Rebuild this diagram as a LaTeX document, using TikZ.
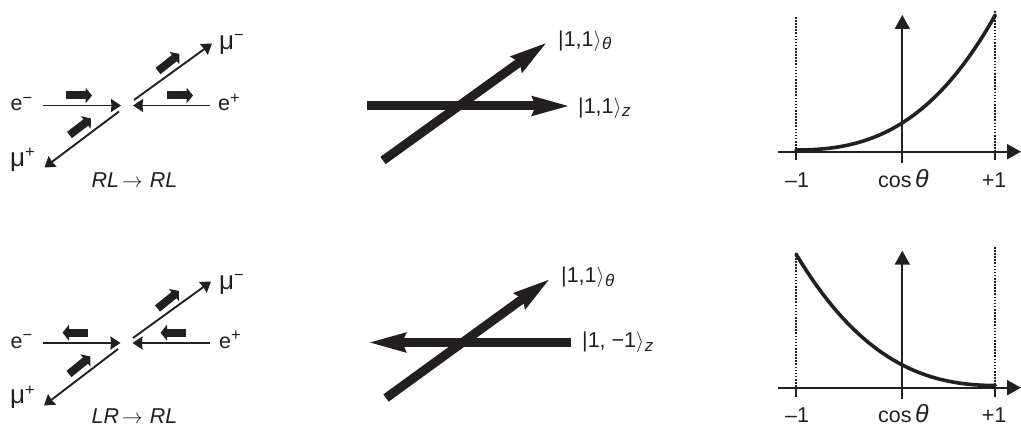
\documentclass[tikz,border=0pt]{standalone}
\usepackage{fontspec}
\setmainfont{Liberation Sans}
\usetikzlibrary{arrows.meta}
\newcommand{\kt}[2]{|#1$\rangle$\kern0.5pt\raisebox{-3.5pt}{\fontsize{17}{17}\selectfont\itshape #2}}
\newcommand{\supr}[1]{\raisebox{7.5pt}{\fontsize{16.5}{16.5}\selectfont #1}}
\newcommand{\suprm}[1]{\raisebox{8.7pt}{\fontsize{16.5}{16.5}\selectfont #1}}
\newcommand{\muchar}{{\fontsize{26}{26}\selectfont μ}}
\newcommand{\thetachar}{{\fontsize{25}{25}\selectfont\itshape θ}}
\tikzset{
  x=1pt,y=-1pt,
  lab/.style={anchor=base,inner sep=0pt,text=ink,font=\fontsize{21.5}{25}\selectfont},
  labl/.style={lab,anchor=base west},
  thinarrow/.style={ink,line width=1.9pt,-{Stealth[length=10pt,width=13pt,inset=0.5pt]}},
  spin/.style={ink,line width=8pt,-{Triangle[length=6.5pt,width=15.5pt]}},
  bigarrow/.style={ink,line width=9pt,-{Stealth[length=38pt,width=17pt,inset=2pt]}},
  axisline/.style={ink,line width=1.9pt},
  axisarrow/.style={axisline,-{Triangle[length=14pt,width=15pt]}},
  dots/.style={ink,line width=1.8pt,dash pattern=on 1.6pt off 1.5pt},
  curve/.style={ink,line width=3.6pt,line cap=round},
}
\definecolor{ink}{HTML}{231F20}
\begin{document}
\begin{tikzpicture}
\useasboundingbox (0,0) rectangle (1021,427);
% --- top left panel
\coordinate (a1) at (43,105.5); \coordinate (a2) at (121,105.5);
\coordinate (b1) at (210,105.5); \coordinate (b2) at (133,105.5);
\coordinate (c1) at (134,100); \coordinate (c2) at (212,43.5);
\coordinate (d1) at (119,111.5); \coordinate (d2) at (44.5,167.5);
\draw[thinarrow] (a1) -- (a2);
\draw[thinarrow] (b1) -- (b2);
\draw[thinarrow] (c1) -- (c2);
\draw[thinarrow] (d1) -- (d2);
\coordinate (s1a) at (66,95.5); \coordinate (s1b) at (92,95.5);
\coordinate (s2a) at (167,95.5); \coordinate (s2b) at (193,95.5);
\coordinate (s3a) at (158,71); \coordinate (s3b) at (179.5,54);
\coordinate (s4a) at (69.5,135); \coordinate (s4b) at (91,118.5);
\draw[spin] (s1a) -- (s1b);
\draw[spin] (s2a) -- (s2b);
\draw[spin] (s3a) -- (s3b);
\draw[spin] (s4a) -- (s4b);
\node[labl] (em1) at (10.5,111) {e\supr{−}};
\node[labl] (ep1) at (218,111) {e\supr{+}};
\node[labl] (mm1) at (219,49.5) {\muchar\suprm{−}};
\node[labl] (mp1) at (10,166.5) {\muchar\suprm{+}};
\node[lab] (t1) at (134.5,187.5) {\textit{RL}\kern3pt$\rightarrow$\kern7pt\textit{RL}};
% --- bottom left panel
\coordinate (e1) at (42.5,343); \coordinate (e2) at (120.5,343);
\coordinate (f1) at (209.5,343); \coordinate (f2) at (132.5,343);
\coordinate (g1) at (133,338); \coordinate (g2) at (211,281.5);
\coordinate (h1) at (118,349); \coordinate (h2) at (44,405.5);
\draw[thinarrow] (e1) -- (e2);
\draw[thinarrow] (f1) -- (f2);
\draw[thinarrow] (g1) -- (g2);
\draw[thinarrow] (h1) -- (h2);
\coordinate (s5a) at (88,332.7); \coordinate (s5b) at (62.5,332.7);
\coordinate (s6a) at (186,332.7); \coordinate (s6b) at (160.5,332.7);
\coordinate (s7a) at (157.5,308.5); \coordinate (s7b) at (179,291);
\coordinate (s8a) at (69,374); \coordinate (s8b) at (90.5,356.5);
\draw[spin] (s5a) -- (s5b);
\draw[spin] (s6a) -- (s6b);
\draw[spin] (s7a) -- (s7b);
\draw[spin] (s8a) -- (s8b);
\node[labl] (em2) at (10.5,348.5) {e\supr{−}};
\node[labl] (ep2) at (219,348.5) {e\supr{+}};
\node[labl] (mm2) at (219,289.5) {\muchar\suprm{−}};
\node[labl] (mp2) at (10,404) {\muchar\suprm{+}};
\node[lab] (t2) at (134.5,424) {\textit{LR}\kern3pt$\rightarrow$\kern7pt\textit{RL}};
% --- top middle
\coordinate (m1) at (367,106); \coordinate (m2) at (572,106);
\coordinate (n1) at (383,160.5); \coordinate (n2) at (549,41);
\draw[bigarrow] (m1) -- (m2);
\draw[bigarrow] (n1) -- (n2);
\node[labl] (k1) at (558,46.5) {\kt{1,1}{θ}};
\node[labl] (k2) at (578,113.5) {\kt{1,1}{z}};
% --- bottom middle
\coordinate (o1) at (571,342.5); \coordinate (o2) at (366,342.5);
\coordinate (p1) at (386,398); \coordinate (p2) at (552,277.5);
\draw[bigarrow] (o1) -- (o2);
\draw[bigarrow] (p1) -- (p2);
\node[labl] (k3) at (561,283) {\kt{1,1}{θ}};
\node[labl] (k4) at (582,348) {\kt{1, −1}{z}};
% --- top right plot
\coordinate (x1) at (778,151.7); \coordinate (x2) at (1021,151.7);
\coordinate (y1) at (902.3,163); \coordinate (y2) at (902.3,15);
\coordinate (l1) at (796,17); \coordinate (l2) at (796,160);
\coordinate (r1) at (995.3,11); \coordinate (r2) at (995.3,160);
\draw[dots] (l1) -- (796,151.7);
\draw[dots] (r1) -- (995.3,151.7);
\draw[axisline] (796,151.7) -- (l2);
\draw[axisline] (995.3,151.7) -- (r2);
\draw[axisarrow] (x1) -- (x2);
\draw[axisarrow] (y1) -- (y2);
\draw[curve] plot[smooth,domain=0:1,samples=40,variable=\t]
  ({796+199.3*\t},{150-135*(0.37*\t*\t+0.63*\t*\t*\t)});
\node[lab] (v1) at (797,187.7) {–1};
\node[lab] (v2) at (903.5,187.7) {cos\,\thetachar};
\node[lab] (v3) at (994,187.7) {+1};
% --- bottom right plot
\coordinate (x3) at (778,387.7); \coordinate (x4) at (1021,387.7);
\coordinate (y3) at (902.3,399); \coordinate (y4) at (902.3,250.7);
\coordinate (l3) at (796,255); \coordinate (l4) at (796,397);
\coordinate (r3) at (995.3,247); \coordinate (r4) at (995.3,397);
\draw[dots] (l3) -- (796,387.7);
\draw[dots] (r3) -- (995.3,387.7);
\draw[axisline] (796,387.7) -- (l4);
\draw[axisline] (995.3,387.7) -- (r4);
\draw[axisarrow] (x3) -- (x4);
\draw[axisarrow] (y3) -- (y4);
\draw[curve] plot[smooth,domain=0:1,samples=40,variable=\t]
  ({995.3-199.3*\t},{385.5-131.5*(0.47*\t*\t+0.53*\t*\t*\t)});
\node[lab] (v4) at (797,423) {–1};
\node[lab] (v5) at (903.5,423) {cos\,\thetachar};
\node[lab] (v6) at (994,423) {+1};
\end{tikzpicture}
\end{document}
